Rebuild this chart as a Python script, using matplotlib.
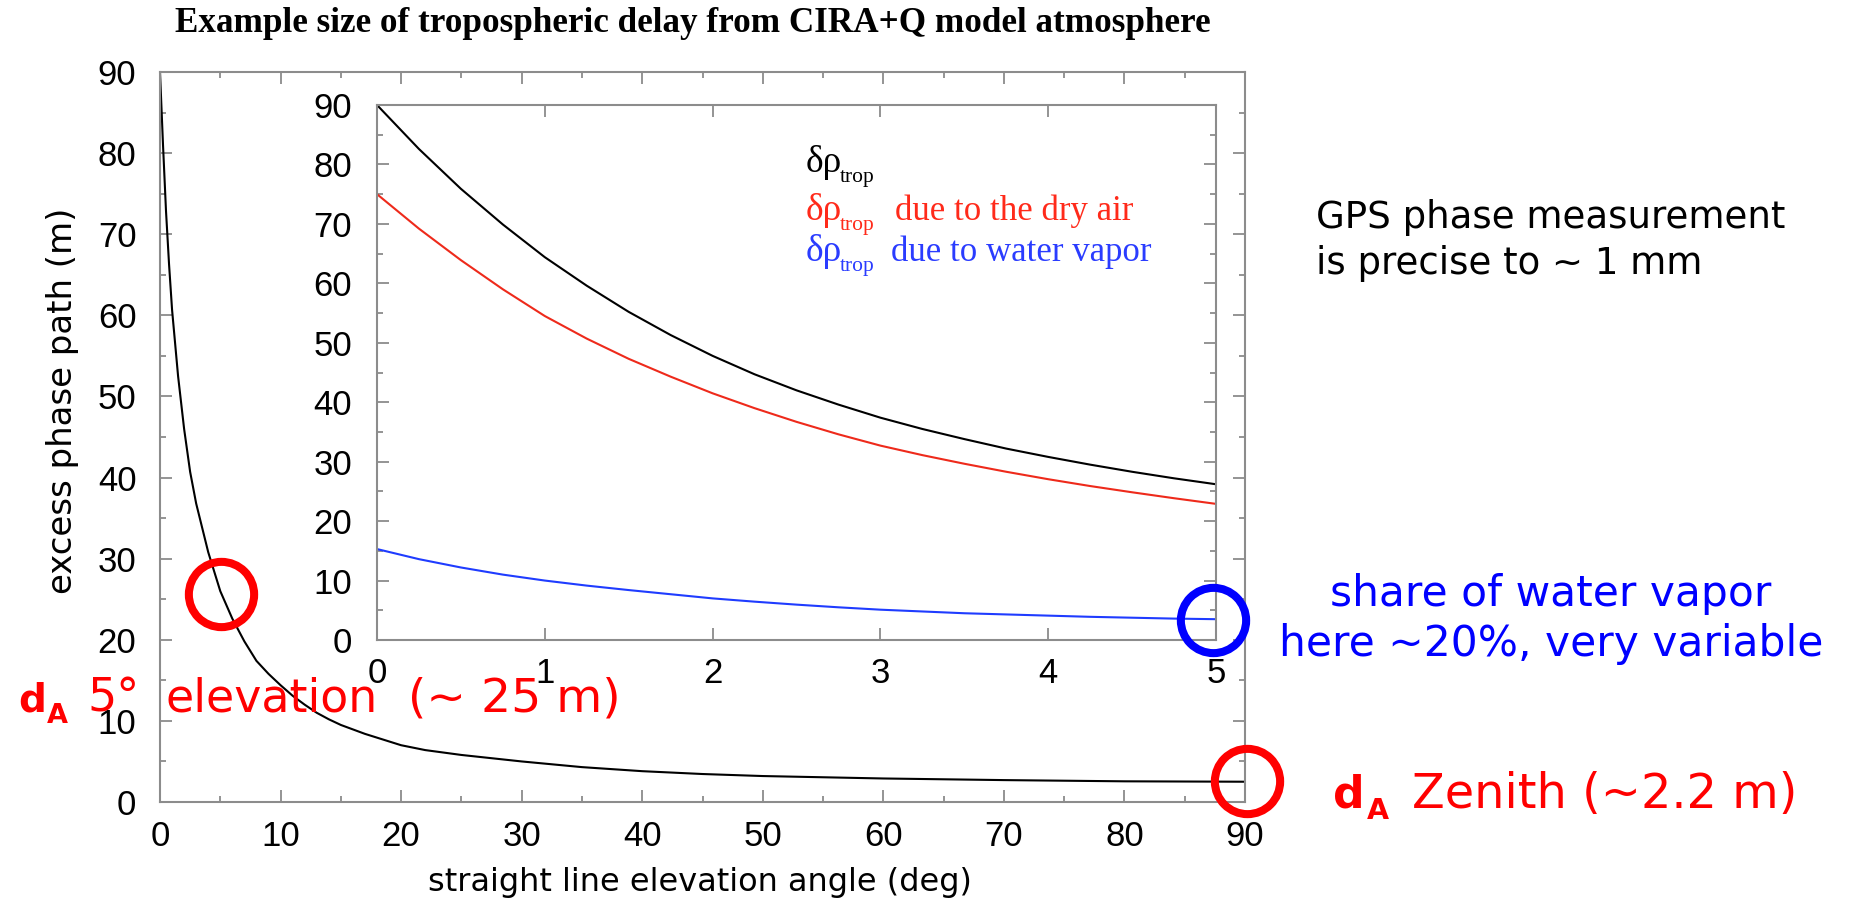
import matplotlib
matplotlib.use("Agg")
import matplotlib.pyplot as plt
from matplotlib.ticker import MultipleLocator

W, H = 1852, 899

# main panel: delay vs elevation (deg, m)
elev = [0, 0.25, 0.5, 0.75, 1, 1.5, 2, 2.5, 3, 4, 5, 6, 7, 8, 9, 10, 11, 12, 13,
        14, 15, 17, 20, 22, 25, 30, 35, 40, 45, 50, 60, 70, 80, 90]
delay = [90.0, 81.0, 72.8, 66.3, 60.7, 52.5, 46.0, 40.7, 36.8, 30.8, 26.0, 22.6,
         19.8, 17.4, 15.8, 14.4, 13.1, 12.0, 11.0, 10.2, 9.5, 8.4, 7.0, 6.4, 5.8,
         5.0, 4.3, 3.8, 3.45, 3.2, 2.9, 2.7, 2.55, 2.5]

# inset: 0-5 deg split into dry / wet parts
ins_x = [0, 0.25, 0.5, 0.75, 1, 1.25, 1.5, 1.75, 2, 2.25, 2.5, 2.75, 3, 3.25,
         3.5, 3.75, 4, 4.25, 4.5, 4.75, 5]
total = [90.0, 82.6, 75.9, 69.9, 64.4, 59.6, 55.2, 51.3, 47.8, 44.7, 42.0, 39.6,
         37.4, 35.5, 33.8, 32.2, 30.8, 29.5, 28.3, 27.2, 26.2]
dry = [75.0, 69.2, 63.9, 59.0, 54.5, 50.7, 47.3, 44.3, 41.5, 39.0, 36.7, 34.6,
       32.7, 31.1, 29.65, 28.3, 27.05, 25.9, 24.85, 23.85, 22.9]
wet = [15.3, 13.6, 12.2, 11.0, 10.0, 9.15, 8.4, 7.7, 7.0, 6.45, 5.95, 5.5, 5.1,
       4.8, 4.5, 4.3, 4.1, 3.9, 3.75, 3.6, 3.5]

# highlighted spots
five_deg = (5.1, 25.6)
zenith = (90.2, 2.6)
wet_end = (4.98, 3.4)

plt.rcParams['font.family'] = ['Liberation Sans', 'DejaVu Sans']

fig = plt.figure(figsize=(W / 100, H / 100), dpi=100)


def put(x, y, s, **kw):
    # place text with pixel coords measured from top-left
    return fig.text(x / W, 1 - y / H, s, **kw)


def style(a, ypad):
    a.tick_params(which='both', direction='in', top=True, right=True,
                  colors='#777777', labelcolor='black', labelsize=25, width=1.1)
    a.tick_params(which='major', length=8.6)
    a.tick_params(which='minor', length=4.3)
    a.tick_params(axis='y', pad=ypad)
    for s in a.spines.values():
        s.set_color('#8c8c8c')
        s.set_linewidth(1.5)


ax = fig.add_axes([160 / W, 1 - 802 / H, 1085 / W, 730 / H])
ax.plot(elev, delay, color='black', lw=1.5)
ax.set_xlim(0, 90)
ax.set_ylim(0, 90)
ax.xaxis.set_major_locator(MultipleLocator(10))
ax.xaxis.set_minor_locator(MultipleLocator(5))
ax.yaxis.set_major_locator(MultipleLocator(10))
ax.yaxis.set_minor_locator(MultipleLocator(5))
style(ax, 17)
ax.tick_params(axis='x', pad=13)

ax.plot([five_deg[0]], [five_deg[1]], marker='o', ms=47, mfc='none', mec='red',
        mew=5.8, clip_on=False, zorder=10)
ax.plot([zenith[0]], [zenith[1]], marker='o', ms=47, mfc='none', mec='red',
        mew=5.8, clip_on=False, zorder=10)

ins = fig.add_axes([377 / W, 1 - 640 / H, 839 / W, 535 / H])
ins.plot(ins_x, total, color='black', lw=1.5)
ins.plot(ins_x, dry, color='#ee2a1b', lw=1.5)
ins.plot(ins_x, wet, color='#1f3cff', lw=1.5)
ins.set_xlim(0, 5)
ins.set_ylim(0, 90)
ins.xaxis.set_major_locator(MultipleLocator(1))
ins.yaxis.set_major_locator(MultipleLocator(10))
ins.yaxis.set_minor_locator(MultipleLocator(5))
style(ins, 18)
ins.tick_params(axis='x', pad=12)
ins.plot([wet_end[0]], [wet_end[1]], marker='o', ms=47, mfc='none', mec='blue',
         mew=5.8, clip_on=False, zorder=10)

# legend inside inset
serif = dict(family='Liberation Serif', va='baseline')
rows = [(172, 'black', '', 0), (220, '#ff2a1a', 'due to the dry air', 895),
        (261, '#2a3cff', 'due to water vapor', 891)]
for base, col, txt, tx in rows:
    put(806, base, 'δρ', size=27, color=col, **serif)
    put(840, base + 10, 'trop', size=15.5, color=col, **serif)
    if txt:
        put(tx, base, txt, size=25, color=col, **serif)

# title and axis labels
put(693, 23, 'Example size of tropospheric delay from CIRA+Q model atmosphere',
    family='Liberation Serif', weight='bold', size=25.3, ha='center', va='center')
put(63, 401, 'excess phase path (m)', family='DejaVu Sans', size=24.5,
    rotation=90, ha='center', va='center')
put(700, 891, 'straight line elevation angle (deg)', family='DejaVu Sans',
    size=23, ha='center', va='baseline')

# slide annotations
sans = dict(family='DejaVu Sans', va='baseline')
put(1316, 228, 'GPS phase measurement', size=26.7, color='black', **sans)
put(1316, 274, 'is precise to ~ 1 mm', size=26.7, color='black', **sans)

put(1551, 606, 'share of water vapor', size=30.5, color='blue', ha='center', **sans)
put(1551, 656, 'here ~20%, very variable', size=30.5, color='blue', ha='center', **sans)

put(1333, 808, 'd', size=31.7, weight='bold', color='red', **sans)
put(1367, 819, 'A', size=20.5, weight='bold', color='red', **sans)
put(1412, 808, 'Zenith (~2.2 m)', size=34.5, color='red', **sans)

put(18, 712, 'd', size=28, weight='bold', color='red', **sans)
put(47, 723, 'A', size=19.5, weight='bold', color='red', **sans)
put(87, 712, '5°', size=33, color='red', **sans)
put(166, 712, 'elevation', size=33, color='red', **sans)
put(408, 712, '(~ 25 m)', size=34, color='red', **sans)

fig.savefig('out.png', dpi=100)
